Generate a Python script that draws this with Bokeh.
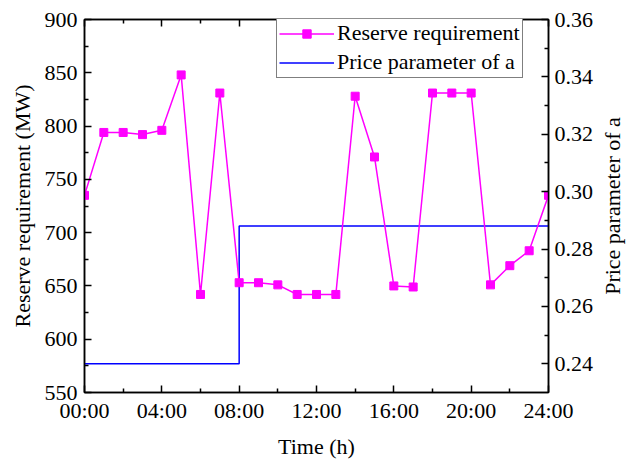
from bokeh.plotting import figure
from bokeh.layouts import row
from bokeh.models import Range1d, LinearAxis, FixedTicker, Legend, LegendItem
from bokeh.embed import file_html
from bokeh.resources import INLINE

# ---- data ----
hours = [0, 1, 2, 3, 4, 5, 6, 7, 8, 9, 10, 11, 12, 13, 14, 15, 16, 17, 18, 19, 20, 21, 22, 23, 24]
reserve = [735, 794, 794, 792, 796, 848, 642, 831, 653, 653, 651, 642, 642, 642,
           828, 771, 650, 649, 831, 831, 831, 651, 669, 683, 735]
price = [0.24, 0.24, 0.24, 0.24, 0.24, 0.24, 0.24, 0.24, 0.288, 0.288, 0.288, 0.288, 0.288,
         0.288, 0.288, 0.288, 0.288, 0.288, 0.288, 0.288, 0.288, 0.288, 0.288, 0.288, 0.288]

x_ticks = [0, 4, 8, 12, 16, 20, 24]
x_tick_labels = ["00:00", "04:00", "08:00", "12:00", "16:00", "20:00", "24:00"]
x_minor = [2, 6, 10, 14, 18, 22]
y_ticks = [550, 600, 650, 700, 750, 800, 850, 900]
y_minor = [575, 625, 675, 725, 775, 825, 875]
y2_ticks = [0.24, 0.26, 0.28, 0.30, 0.32, 0.34, 0.36]
y2_tick_labels = ["0.24", "0.26", "0.28", "0.30", "0.32", "0.34", "0.36"]
y2_minor = [0.25, 0.27, 0.29, 0.31, 0.33, 0.35]

FONT = "Liberation Serif"
FS = "22px"

p = figure(width=596, height=461, output_backend="svg", toolbar_location=None,
           x_range=Range1d(0, 24), y_range=Range1d(550, 900),
           min_border_left=84, min_border_right=48, min_border_top=19, min_border_bottom=69)
p.extra_y_ranges = {"price": Range1d(0.23, 0.36)}
p.grid.visible = False
p.outline_line_color = "black"
p.outline_line_width = 1.5
p.background_fill_color = "white"
p.border_fill_color = "white"


def style_axis(ax):
    ax.axis_line_color = "black"
    ax.axis_line_width = 1.5
    ax.major_tick_in = 7
    ax.major_tick_out = 0
    ax.minor_tick_in = 4
    ax.minor_tick_out = 0
    ax.major_tick_line_width = 1.5
    ax.minor_tick_line_width = 1.5
    ax.major_label_text_font = FONT
    ax.major_label_text_font_size = FS
    ax.major_label_text_color = "black"
    ax.axis_label_text_font = FONT
    ax.axis_label_text_font_size = FS
    ax.axis_label_text_font_style = "normal"
    ax.axis_label_text_color = "black"


xa = p.xaxis[0]
xa.ticker = FixedTicker(ticks=x_ticks, minor_ticks=x_minor)
xa.major_label_overrides = {t: l for t, l in zip(x_ticks, x_tick_labels)}
xa.axis_label = "Time (h)"
style_axis(xa)
xa.major_label_standoff = 5
xa.axis_label_standoff = 8

ya = p.yaxis[0]
ya.ticker = FixedTicker(ticks=y_ticks, minor_ticks=y_minor)
ya.axis_label = "Reserve requirement (MW)"
style_axis(ya)
ya.major_label_standoff = 7
ya.axis_label_standoff = 7

ra = LinearAxis(y_range_name="price", ticker=FixedTicker(ticks=y2_ticks, minor_ticks=y2_minor))
ra.major_label_overrides = {t: l for t, l in zip(y2_ticks, y2_tick_labels)}
style_axis(ra)
ra.major_label_standoff = 6
p.add_layout(ra, "right")

ta = LinearAxis(ticker=FixedTicker(ticks=x_ticks, minor_ticks=x_minor))
style_axis(ta)
ta.major_label_overrides = {t: "" for t in x_ticks}
ta.major_label_standoff = 0
p.add_layout(ta, "above")

blue = p.step(hours, price, mode="after", y_range_name="price",
              line_color="#0000FF", line_width=1.5)
mline = p.line(hours, reserve, line_color="#FF00FF", line_width=1.5)
mpts = p.scatter(hours, reserve, marker="square", size=8,
                 fill_color="#FF00FF", line_color="#FF00FF")

legend = Legend(items=[LegendItem(label="Reserve requirement", renderers=[mline, mpts]),
                       LegendItem(label="Price parameter of a", renderers=[blue])],
                location=(192, 314))
legend.label_text_font = FONT
legend.label_text_font_size = FS
legend.label_text_color = "black"
legend.glyph_width = 55
legend.glyph_height = 21
legend.label_height = 21
legend.label_standoff = 3
legend.spacing = 3
legend.padding = 2
legend.margin = 0
legend.border_line_color = "black"
legend.border_line_width = 1.5
legend.background_fill_alpha = 1
p.add_layout(legend)

# narrow companion figure that only carries the right-hand axis title,
# so it reads bottom-to-top like the reference
p2 = figure(width=41, height=461, output_backend="svg", toolbar_location=None,
            x_range=Range1d(0, 1), y_range=Range1d(0, 1), x_axis_location=None,
            min_border_left=0, min_border_right=0, min_border_top=19, min_border_bottom=69)
p2.grid.visible = False
p2.outline_line_color = None
p2.background_fill_color = "white"
p2.border_fill_color = "white"
t2 = p2.yaxis[0]
t2.ticker = FixedTicker(ticks=[], minor_ticks=[])
t2.axis_line_color = None
t2.major_tick_line_color = None
t2.minor_tick_line_color = None
t2.major_label_standoff = 0
t2.axis_label_standoff = 0
t2.axis_label = "Price parameter of a"
t2.axis_label_text_font = FONT
t2.axis_label_text_font_size = FS
t2.axis_label_text_font_style = "normal"
t2.axis_label_text_color = "black"

layout = row(p, p2, spacing=0)
open("out.html", "w").write(file_html(layout, INLINE))
